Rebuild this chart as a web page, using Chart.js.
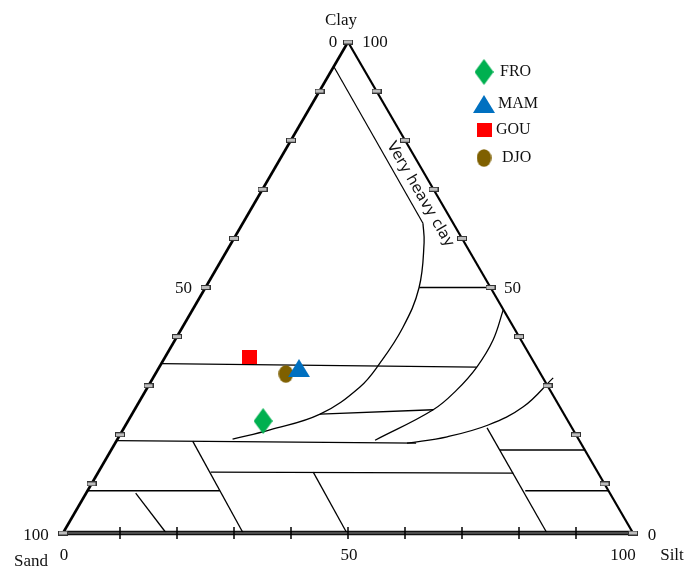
<!DOCTYPE html>
<html lang="en">
  <head>
    <meta charset="UTF-8" />
    <title>Soil texture triangle</title>
    <script src="https://cdn.jsdelivr.net/npm/chart.js"></script>
    <style>
      html, body { margin: 0; padding: 0; background: #fff; }
      #wrap { width: 689px; height: 566px; }
    </style>
  </head>
  <body>
    <div id="wrap"><canvas id="myChart" width="689" height="566"></canvas></div>

    <script>
      // samples (silt %, clay %), sand = 100 - silt - clay
      const samples = ["FRO", "MAM", "GOU", "DJO"];
      const sampleSilt = [23.7, 24.6, 14.9, 22.9];
      const sampleClay = [22.8, 33.6, 35.8, 32.4];
      const sampleColors = ["#00b050", "#0070c0", "#ff0000", "#7f6000"];
      const sampleShapes = ["diamond", "triangle", "square", "ellipse"];

      // class boundaries as [silt, clay] pairs
      const veryHeavyLine = [[0, 95], [31.6, 63.1]];
      const curveA = [[31.6, 63.1], [33.8, 59.1], [37.5, 49.9], [38.7, 41.8], [38.3, 34.6], [37.2, 29.7], [33.0, 24.2], [25.8, 21.0], [20.2, 19.1]];
      const curveB = [[54.5, 45.5], [55.8, 39.3], [55.7, 33.8], [54.5, 29.1], [52.4, 25.1], [45.3, 18.9]];
      const curveC = [[70.2, 31.6], [67.9, 25.7], [63.6, 22.0], [57.6, 19.6], [51.2, 18.3]];
      const straightLines = [
        [[37.5, 50], [50, 50]],
        [[0, 34.5], [55.7, 33.8]],
        [[33.0, 24.2], [52.4, 25.1]],
        [[0, 18.8], [52.8, 18.3]],
        [[13.4, 18.7], [31.6, 0]],
        [[19.7, 12.4], [72.9, 12.2]],
        [[37.7, 12.4], [49.8, 0]],
        [[63.7, 21.4], [84.9, 0]],
        [[68.2, 16.9], [83.1, 16.9]],
        [[76.8, 8.6], [91.4, 8.6]],
        [[0, 8.6], [23.2, 8.6]],
        [[8.7, 8.1], [18.1, 0]]
      ];
      const tickSteps = [10, 20, 30, 40, 50, 60, 70, 80, 90];
      const classLabel = "Very heavy clay";

      const toXY = (p) => ({ x: p[0] + p[1] / 2, y: p[1] });

      // small canvases used as point styles
      function marker(shape, color) {
        const c = document.createElement("canvas");
        const g = c.getContext("2d");
        g.fillStyle = color;
        if (shape === "diamond") {
          c.width = 19; c.height = 26;
          g.fillStyle = color;
          g.beginPath(); g.moveTo(9.5, 0); g.lineTo(19, 13); g.lineTo(9.5, 26); g.lineTo(0, 13); g.closePath(); g.fill();
        } else if (shape === "triangle") {
          c.width = 22; c.height = 18;
          g.fillStyle = color;
          g.beginPath(); g.moveTo(11, 0); g.lineTo(22, 18); g.lineTo(0, 18); g.closePath(); g.fill();
        } else if (shape === "square") {
          c.width = 15; c.height = 14;
          g.fillStyle = color;
          g.fillRect(0, 0, 15, 14);
        } else if (shape === "ellipse") {
          c.width = 15; c.height = 18;
          g.fillStyle = color;
          g.beginPath(); g.ellipse(7.5, 9, 7.3, 8.8, 0, 0, Math.PI * 2); g.fill();
        } else if (shape === "edgeTick") {
          c.width = 10; c.height = 5;
          g.fillStyle = "#bdbdbd"; g.fillRect(0.5, 0.5, 9, 4);
          g.strokeStyle = "#333"; g.lineWidth = 1; g.strokeRect(0.5, 0.5, 9, 4);
        }
        return c;
      }

      const markers = sampleShapes.map((s, i) => marker(s, sampleColors[i]));
      const edgeTick = marker("edgeTick");

      const lineSet = (pts, width, color, tension, order) => ({
        data: pts.map(toXY),
        showLine: true,
        borderColor: color,
        borderWidth: width,
        pointRadius: 0,
        tension: tension,
        clip: false,
        order: order
      });

      const datasets = [];

      samples.forEach((name, i) => {
        datasets.push({
          label: name,
          data: [toXY([sampleSilt[i], sampleClay[i]])],
          pointStyle: markers[i],
          pointRadius: 10,
          clip: false,
          order: 0
        });
      });

      // triangle frame
      datasets.push(lineSet([[0, 0], [0, 100]], 2.6, "#000", 0, 3));
      datasets.push(lineSet([[0, 100], [100, 0]], 2.2, "#000", 0, 3));
      datasets.push(lineSet([[0, 0], [100, 0]], 4.5, "#111", 0, 4));
      datasets.push(lineSet([[0, 0], [100, 0]], 1.2, "#8a8a8a", 0, 3));

      // class boundaries
      datasets.push(lineSet(veryHeavyLine, 1.2, "#000", 0, 3));
      datasets.push(lineSet(curveA, 1.3, "#000", 0.4, 3));
      datasets.push(lineSet(curveB, 1.3, "#000", 0.4, 3));
      datasets.push(lineSet(curveC, 1.3, "#000", 0.4, 3));
      straightLines.forEach((l) => datasets.push(lineSet(l, 1.3, "#000", 0, 3)));

      // edge ticks (clay on the sides, silt on the base)
      const sidePts = [];
      tickSteps.forEach((v) => { sidePts.push([0, v]); sidePts.push([100 - v, v]); });
      sidePts.push([0, 0], [100, 0], [0, 100]);
      datasets.push({
        data: sidePts.map(toXY),
        pointStyle: edgeTick,
        pointRadius: 5,
        clip: false,
        order: 1
      });
      datasets.push({
        data: tickSteps.map((v) => toXY([v, 0])),
        pointStyle: "line",
        rotation: 90,
        pointRadius: 6,
        borderWidth: 1.5,
        borderColor: "#000",
        clip: false,
        order: 1
      });

      const texts = {
        id: "texts",
        afterDraw(chart) {
          const { ctx, scales } = chart;
          const px = (silt, clay) => [
            scales.x.getPixelForValue(silt + clay / 2),
            scales.y.getPixelForValue(clay)
          ];
          const put = (t, p, dx, dy) => ctx.fillText(t, p[0] + dx, p[1] + dy);
          ctx.save();
          ctx.fillStyle = "#111";
          ctx.textAlign = "center";
          ctx.textBaseline = "middle";
          ctx.font = '17px "Liberation Serif"';
          const top = px(0, 100), left = px(0, 0), right = px(100, 0);
          put("Clay", top, -7, -21);
          put("0", top, -15, 1);
          put("100", top, 27, 1);
          put("50", px(0, 50), -22, 1);
          put("50", px(50, 50), 22, 1);
          put("100", left, -27, 3);
          put("0", right, 19, 3);
          put("0", left, 1, 23);
          put("50", px(50, 0), 1, 23);
          put("100", right, -10, 23);
          put("Silt", right, 39, 23);
          put("Sand", left, -32, 29);

          // class label along the right edge
          ctx.save();
          ctx.font = '15px "DejaVu Sans"';
          ctx.fillStyle = "#111";
          const lp = px(27.7, 68.8);
          ctx.translate(lp[0], lp[1]);
          ctx.rotate(Math.atan2(491, 285));
          ctx.fillText(classLabel, 1, -3);
          ctx.restore();

          // legend
          ctx.font = '16px "Liberation Serif"';
          ctx.textAlign = "left";
          const legY = [72, 104, 130, 158];
          const legTx = [500, 498, 496, 502];
          samples.forEach((name, i) => {
            const m = markers[i];
            ctx.drawImage(m, 484 - m.width / 2, legY[i] - m.height / 2);
            ctx.fillText(name, legTx[i], legY[i]);
          });
          ctx.restore();
        }
      };

      new Chart(document.getElementById("myChart"), {
        type: "scatter",
        data: { datasets: datasets },
        options: {
          responsive: false,
          animation: false,
          layout: { padding: { left: 63, right: 56, top: 42, bottom: 33 } },
          scales: {
            x: { type: "linear", min: 0, max: 100, display: false },
            y: { type: "linear", min: 0, max: 100, display: false }
          },
          plugins: {
            legend: { display: false },
            tooltip: { enabled: false }
          }
        },
        plugins: [texts]
      });
    </script>
  </body>
</html>
